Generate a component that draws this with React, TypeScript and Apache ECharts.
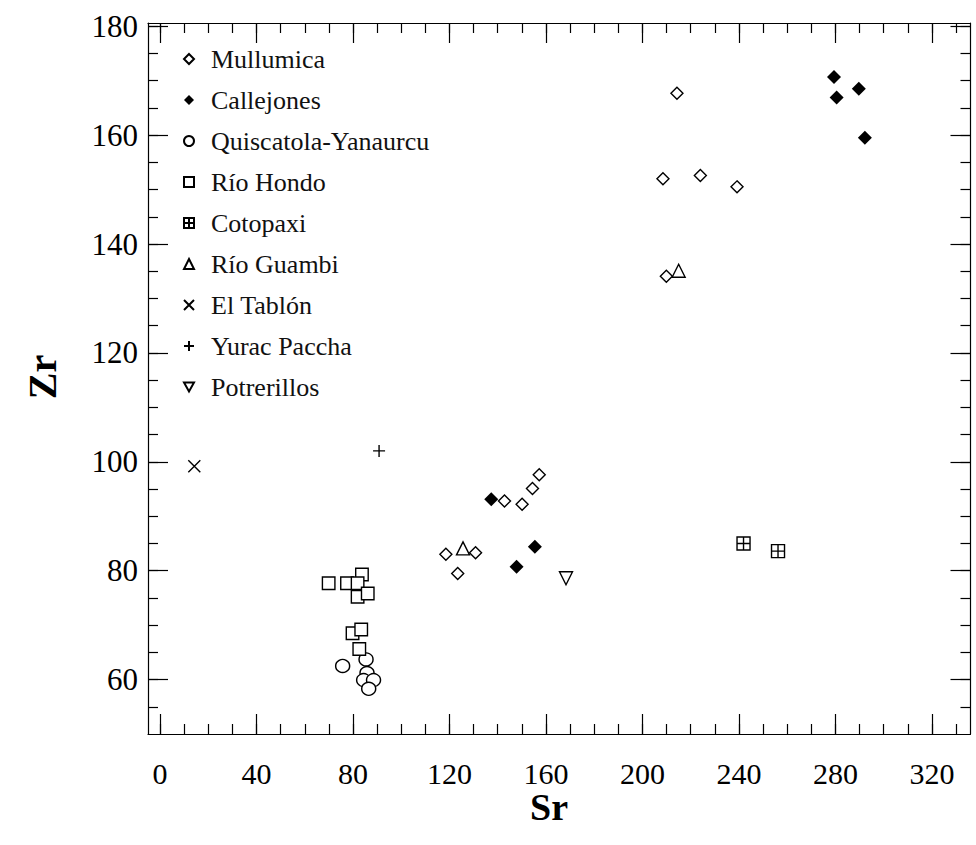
import React, { useEffect, useRef } from "react";
import * as echarts from "echarts";

const seriesNames = [
  "Mullumica",
  "Callejones",
  "Quiscatola-Yanaurcu",
  "Río Hondo",
  "Cotopaxi",
  "Río Guambi",
  "El Tablón",
  "Yurac Paccha",
  "Potrerillos",
];

const mullumica = [
  [214.3, 167.7], [208.5, 152.0], [224.0, 152.6], [239.2, 150.5], [209.9, 134.1],
  [157.2, 97.6], [154.4, 95.1], [142.8, 92.8], [150.1, 92.2], [118.5, 83.0],
  [130.8, 83.3], [123.4, 79.5],
];
const callejones = [
  [279.4, 170.7], [280.5, 166.9], [289.7, 168.5], [292.2, 159.5],
  [137.3, 93.1], [155.4, 84.4], [147.8, 80.7],
];
const quiscatola = [
  [75.7, 62.5], [85.4, 63.7], [85.8, 61.2], [84.4, 59.9], [88.5, 59.9], [86.5, 58.3],
];
const rioHondo = [
  [69.9, 77.7], [77.5, 77.7], [83.7, 79.3], [81.9, 77.7], [81.9, 75.2],
  [86.1, 75.8], [79.8, 68.5], [83.4, 69.2], [82.6, 65.6],
];
const cotopaxi = [[241.9, 85.0], [256.2, 83.6]];
const rioGuambi = [[215.0, 135.1], [125.6, 84.1]];
const elTablon = [[14.2, 99.2]];
const yuracPaccha = [[90.8, 102.0]];
const potrerillos = [[168.3, 78.6]];

const xMajor = [0, 40, 80, 120, 160, 200, 240, 280, 320];
const xMinor = [0, 10, 20, 30, 40, 50, 60, 70, 80, 90, 100, 110, 120, 130, 140, 150, 160, 170, 180, 190, 200, 210, 220, 230, 240, 250, 260, 270, 280, 290, 300, 310, 320, 330];
const yMajor = [60, 80, 100, 120, 140, 160, 180];
const yMinor = [55, 60, 65, 70, 75, 80, 85, 90, 95, 100, 105, 110, 115, 120, 125, 130, 135, 140, 145, 150, 155, 160, 165, 170, 175, 180];

const X_MIN = -5;
const X_MAX = 336;
const Y_MIN = 50;
const Y_MAX = 180.6;

const FONT = "Liberation Serif";

const SYM_BOXCROSS = "path://M0,0L10,0L10,10L0,10ZM5,0L5,10M0,5L10,5";
const SYM_X = "path://M0,0L10,10M10,0L0,10";
const SYM_PLUS = "path://M5,0L5,10M0,5L10,5";
const SYM_DOWN = "path://M0,0L10,0L5,9Z";

function makeX(position: string, ticks: number[], len: number, showLine: boolean, showLabel: boolean) {
  return {
    type: "value",
    position,
    min: X_MIN,
    max: X_MAX,
    axisLine: { show: showLine, onZero: false, lineStyle: { color: "#000", width: 1.2 } },
    axisTick: { show: true, inside: true, length: len, customValues: ticks, lineStyle: { color: "#000", width: 1.2 } },
    axisLabel: {
      show: showLabel,
      customValues: xMajor,
      margin: 24,
      color: "#000",
      fontFamily: FONT,
      fontSize: 30,
      lineHeight: 30,
    },
    splitLine: { show: false },
  };
}

function makeY(position: string, ticks: number[], len: number, showLine: boolean, showLabel: boolean) {
  return {
    type: "value",
    position,
    min: Y_MIN,
    max: Y_MAX,
    axisLine: { show: showLine, onZero: false, lineStyle: { color: "#000", width: 1.2 } },
    axisTick: { show: true, inside: true, length: len, customValues: ticks, lineStyle: { color: "#000", width: 1.2 } },
    axisLabel: {
      show: showLabel,
      customValues: yMajor,
      margin: 10,
      color: "#000",
      fontFamily: FONT,
      fontSize: 31,
    },
    splitLine: { show: false },
  };
}

const openStyle = { color: "#fff", borderColor: "#000", borderWidth: 1.4, opacity: 1 };
const solidStyle = { color: "#000", borderColor: "#000", borderWidth: 0, opacity: 1 };

export default function App() {
  const ref = useRef<HTMLDivElement>(null);

  useEffect(() => {
    if (!ref.current) return;
    const chart = echarts.init(ref.current, undefined, { renderer: "svg" });

    const specs: any[] = [
      { data: mullumica, symbol: "diamond", symbolSize: 12, itemStyle: openStyle },
      { data: callejones, symbol: "diamond", symbolSize: 14, itemStyle: solidStyle },
      { data: quiscatola, symbol: "circle", symbolSize: [14, 13], itemStyle: openStyle },
      { data: rioHondo, symbol: "rect", symbolSize: 12.5, itemStyle: openStyle },
      { data: cotopaxi, symbol: SYM_BOXCROSS, symbolSize: 13, itemStyle: openStyle },
      { data: rioGuambi, symbol: "triangle", symbolSize: 13, itemStyle: openStyle },
      { data: elTablon, symbol: SYM_X, symbolSize: 12, itemStyle: openStyle },
      { data: yuracPaccha, symbol: SYM_PLUS, symbolSize: 12, itemStyle: openStyle },
      { data: potrerillos, symbol: SYM_DOWN, symbolSize: 13, itemStyle: openStyle },
    ];

    const series = specs.map((s, i) => ({
      type: "scatter",
      name: seriesNames[i],
      xAxisIndex: 0,
      yAxisIndex: 0,
      data: s.data,
      symbol: s.symbol,
      symbolSize: s.symbolSize,
      itemStyle: s.itemStyle,
      emphasis: { disabled: true },
    }));

    chart.setOption({
      animation: false,
      backgroundColor: "#fff",
      grid: { left: 148, right: 5.5, top: 23, bottom: 111, containLabel: false },
      xAxis: [
        makeX("bottom", xMajor, 20, true, true),
        makeX("bottom", xMinor, 10, false, false),
        makeX("top", xMajor, 20, true, false),
        makeX("top", xMinor, 10, false, false),
      ],
      yAxis: [
        makeY("left", yMajor, 20, true, true),
        makeY("left", yMinor, 10, false, false),
        makeY("right", yMajor, 20, true, false),
        makeY("right", yMinor, 10, false, false),
      ],
      legend: {
        orient: "vertical",
        left: 178,
        top: 41,
        itemWidth: 10,
        itemHeight: 10,
        itemGap: 15,
        selectedMode: false,
        data: seriesNames,
        itemStyle: { opacity: 1 },
        textStyle: {
          fontFamily: FONT,
          fontSize: 26,
          lineHeight: 26,
          color: "#111",
          padding: [0, 0, 0, 12],
        },
      },
      graphic: [
        {
          type: "text",
          x: 549,
          y: 807,
          style: {
            text: "Sr",
            fontFamily: FONT,
            fontWeight: "bold",
            fontSize: 38,
            lineHeight: 28,
            fill: "#000",
            align: "center",
            verticalAlign: "middle",
          },
        },
        {
          type: "text",
          x: 42,
          y: 377,
          rotation: Math.PI / 2,
          style: {
            text: "Zr",
            fontFamily: FONT,
            fontWeight: "bold",
            fontSize: 40,
            fill: "#000",
            align: "center",
            verticalAlign: "middle",
          },
        },
      ],
      series,
    });

    return () => chart.dispose();
  }, []);

  return (
    <div
      ref={ref}
      style={{ position: "fixed", left: 0, top: 0, width: 976, height: 845 }}
    />
  );
}
